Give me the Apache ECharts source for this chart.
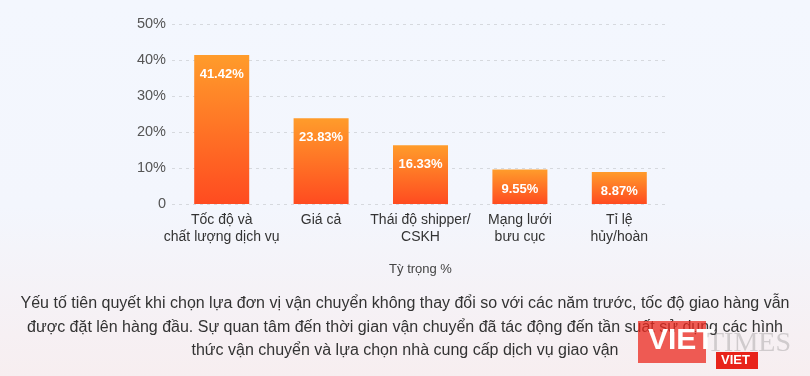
<!DOCTYPE html>
<html>
<head>
<meta charset="utf-8">
<script src="https://cdn.jsdelivr.net/npm/echarts@6/dist/echarts.min.js"></script>
<style>
html,body{margin:0;padding:0;}
#c{width:810px;height:376px;background:linear-gradient(180deg,#f3f7fe 0%,#f3f6fd 55%,#f7eef0 100%);}
</style>
</head>
<body>
<div id="c"></div>
<script>
const categories = ["Tốc độ và\nchất lượng dịch vụ", "Giá cả", "Thái độ shipper/\nCSKH", "Mạng lưới\nbưu cục", "Tỉ lệ\nhủy/hoàn"];
const values = [41.42, 23.83, 16.33, 9.55, 8.87];
const yTicks = [0, 10, 20, 30, 40, 50];
const axisName = "Tỳ trọng %";
const captionLines = [
  "Yếu tố tiên quyết khi chọn lựa đơn vị vận chuyển không thay đổi so với các năm trước, tốc độ giao hàng vẫn",
  "được đặt lên hàng đầu. Sự quan tâm đến thời gian vận chuyển đã tác động đến tần suất sử dụng các hình",
  "thức vận chuyển và lựa chọn nhà cung cấp dịch vụ giao vận"
];

const font = "'Liberation Sans', Arial, sans-serif";
const chart = echarts.init(document.getElementById('c'), null, {renderer:'canvas'});
const graphics = captionLines.map((t, i) => ({
  type: 'text', left: 'center', top: 296 + i * 23.5,
  style: {text: t, fill: '#333', font: '16px ' + font}
}));
graphics.push(
  {type:'rect', left:638, top:321, shape:{width:68, height:42}, style:{fill:'rgba(235,40,30,0.75)'}},
  {type:'text', left:648, top:326, style:{text:'VIET', fill:'#fff', font:'bold 30px ' + font}},
  {type:'text', left:707, top:330, style:{text:'TIMES', fill:'rgba(120,120,120,0.3)', font:'28px serif'}},
  {type:'rect', left:716, top:352, shape:{width:42, height:17}, style:{fill:'#e8231a'}},
  {type:'text', left:721, top:354, style:{text:'VIET', fill:'#fff', font:'bold 13px ' + font}}
);
chart.setOption({
  backgroundColor: 'transparent',
  animation: false,
  grid: {left: 172, right: 141, top: 24, bottom: 172, containLabel: false},
  xAxis: {
    type: 'category', data: categories,
    name: axisName, nameLocation: 'middle', nameGap: 59,
    nameTextStyle: {color: '#444', fontSize: 13, fontFamily: font},
    axisLine: {show: false}, axisTick: {show: false},
    axisLabel: {color: '#333', fontSize: 14, fontFamily: font, lineHeight: 17, margin: 8, interval: 0}
  },
  yAxis: {
    type: 'value', min: 0, max: 50, interval: 10,
    axisLine: {show: false}, axisTick: {show: false},
    axisLabel: {color: '#555', fontSize: 14.5, fontFamily: font, margin: 6,
      formatter: v => yTicks.includes(v) ? (v === 0 ? '0' : v + '%') : ''},
    splitLine: {lineStyle: {color: '#d6d9de', type: [3, 4], width: 1}}
  },
  series: [{
    type: 'bar', data: values, barWidth: 55,
    itemStyle: {color: new echarts.graphic.LinearGradient(0, 0, 0, 1, [
      {offset: 0, color: '#ff9c2b'}, {offset: 1, color: '#ff4b20'}])},
    label: {show: true, position: 'insideTop', distance: 13, color: '#fff',
      fontSize: 13, fontWeight: 'bold', fontFamily: font,
      formatter: p => p.value.toFixed(2) + '%'}
  }],
  graphic: graphics
});
</script>
</body>
</html>
